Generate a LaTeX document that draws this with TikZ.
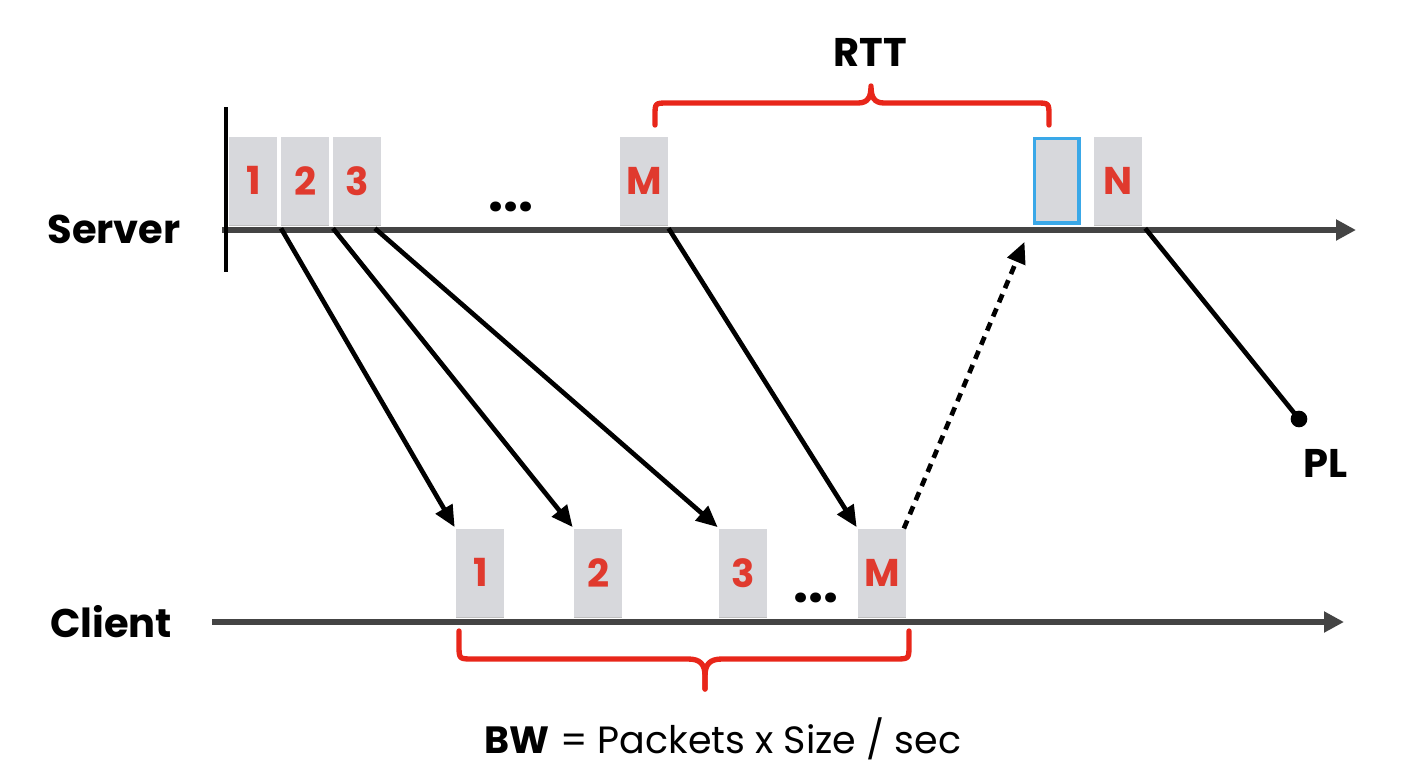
\documentclass[tikz,border=0pt]{standalone}
\usepackage{fontspec}
\setmainfont{Poppins}
\usetikzlibrary{arrows.meta,shadows}
\definecolor{boxgray}{HTML}{D7D8DC}
\definecolor{lblred}{HTML}{E03A2E}
\definecolor{brred}{HTML}{E8261A}
\definecolor{axisgray}{HTML}{444444}
\definecolor{ackblue}{HTML}{3AA8E8}
\tikzset{
  pkt/.style={fill=boxgray, minimum width=36pt, minimum height=66pt, inner sep=0pt,
    anchor=south west, font=\fontsize{29}{30}\selectfont\bfseries, text=lblred,
    drop shadow={shadow xshift=0pt, shadow yshift=-1.2pt, fill=black, opacity=0.25}},
  ackbox/.style={pkt, draw=ackblue, line width=2.4pt, minimum width=33.6pt, minimum height=63.6pt},
  axisline/.style={draw=axisgray, line width=3.8pt, -{Triangle[length=15pt,width=15pt]}},
  flow/.style={draw=black, line width=3.5pt, -{Triangle[length=16pt,width=14pt]}},
  ackflow/.style={draw=black, line width=3.5pt, dash pattern=on 6.5pt off 5pt, -{Triangle[length=16pt,width=14pt]}},
  brace/.style={draw=brred, line width=4pt, line cap=round, line join=round},
  lbl/.style={font=\fontsize{30}{32}\selectfont\bfseries, text=black, inner sep=0pt, anchor=base},
  dots/.style={font=\fontsize{40}{40}\selectfont\bfseries, inner sep=0pt, anchor=base}
}
\begin{document}
\begin{tikzpicture}[x=0.75pt,y=-0.75pt]
\useasboundingbox (0,0) rectangle (1428,782);
% axes
\coordinate (sa0) at (222,230);
\coordinate (sa1) at (1356,230);
\coordinate (ca0) at (212,622);
\coordinate (ca1) at (1344,622);
\path[axisline] (sa0) -- (sa1);
\path[axisline] (ca0) -- (ca1);
\coordinate (vb0) at (226,107);
\coordinate (vb1) at (226,272);
\draw[line width=3.4pt, black] (vb0) -- (vb1);
% labels
\node[lbl] (server) at (114,243) {Server};
\node[lbl] (client) at (111,637) {Client};
\node[lbl] (rtt) at (870,66) {RTT};
\node[lbl] (pl) at (1326,477) {PL};
\node[font=\fontsize{28.5}{30}\selectfont, inner sep=0pt, anchor=base] (bw) at (723,753) {\textbf{BW} = Packets x Size / sec};
% server packets
\node[pkt] (s1) at (229,225) {1};
\node[pkt] (s2) at (281,225) {2};
\node[pkt] (s3) at (333,225) {3};
\node[pkt] (sM) at (620,225) {M};
\node[ackbox] (sB) at (1032.5,224.5) {};
\node[pkt] (sN) at (1094,225) {N};
\node[dots] (sd) at (511,211) {...};
% client packets
\node[pkt] (c1) at (456,617) {1};
\node[pkt] (c2) at (574,617) {2};
\node[pkt] (c3) at (719,617) {3};
\node[pkt] (cM) at (858,617) {M};
\node[dots] (cd) at (816,602) {...};
% flows
\draw[flow] ([yshift=-2.5pt]s2.south west) -- ([xshift=-1pt,yshift=1pt]c1.north west);
\draw[flow] ([yshift=-2.5pt]s3.south west) -- ([xshift=-1pt,yshift=1pt]c2.north west);
\draw[flow] ([xshift=-5pt,yshift=-2.5pt]s3.south east) -- ([xshift=-1pt,yshift=1pt]c3.north west);
\draw[flow] ([yshift=-2.5pt]sM.south east) -- ([xshift=-1pt,yshift=1pt]cM.north west);
\draw[ackflow] ([xshift=-2pt,yshift=0pt]cM.north east) -- ([xshift=-6pt,yshift=-13pt]sB.south west);
% packet loss
\node[circle, fill=black, minimum size=12.5pt, inner sep=0pt] (pld) at (1299,419) {};
\draw[line width=3.5pt, black] ([xshift=2pt,yshift=-2.5pt]sN.south east) -- (pld.center);
% braces
\draw[brace] (655,125) -- (655,116) .. controls (655,103) .. (668,103) -- (858,103)
  .. controls (868,103) and (871,97) .. (871,86)
  .. controls (871,97) and (874,103) .. (884,103) -- (1036,103)
  .. controls (1049,103) .. (1049,116) -- (1049,125);
\draw[brace] (459,631) -- (459,645) .. controls (459,659) .. (473,659) -- (688,659)
  .. controls (700,659) and (705,664) .. (705,676) -- (705,689);
\draw[brace] (705,689) -- (705,676) .. controls (705,664) and (710,659) .. (722,659) -- (895,659)
  .. controls (909,659) .. (909,645) -- (909,631);
\end{tikzpicture}
\end{document}
